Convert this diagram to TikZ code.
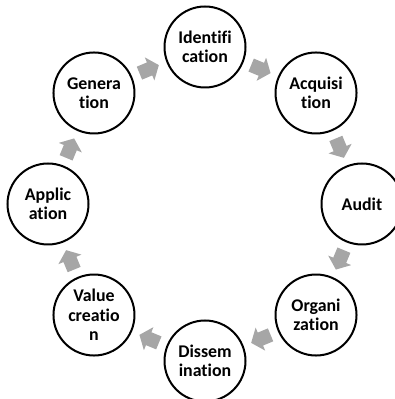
\documentclass[tikz,border=0pt]{standalone}
\usepackage{fontspec}
\setmainfont{Carlito}[Ligatures=NoCommon]
\usetikzlibrary{calc}
\definecolor{arrowgray}{RGB}{166,166,166}
\tikzset{
  stage/.style={circle, draw=black, line width=1.5pt, minimum size=60.75pt, inner sep=0pt,
    align=center, font=\bfseries\fontsize{13.4}{14.6}\selectfont},
  blockarrow/.pic={\fill[arrowgray] (-10.5,-7) -- (0.5,-7) -- (0.5,-12.5) -- (10.5,0) -- (0.5,12.5) -- (0.5,7) -- (-10.5,7) -- cycle;}
}
\begin{document}
\begin{tikzpicture}[x=0.75pt,y=0.75pt]
\useasboundingbox (0,0) rectangle (395,399);
\clip (0,0) rectangle (395,399);
\coordinate (c) at (205,195);
\node[stage] (ident) at ($(c)+(90:157)$) {Identifi\\cation};
\node[stage] (acq) at ($(c)+(45:157)$) {Acquisi\\tion};
\node[stage] (audit) at ($(c)+(0:157)$) {Audit};
\node[stage] (org) at ($(c)+(-45:157)$) {Organi\\zation};
\node[stage] (diss) at ($(c)+(-90:157)$) {Dissem\\ination};
\node[stage] (value) at ($(c)+(-135:157)$) {Value\\creatio\\n};
\node[stage] (appl) at ($(c)+(180:157)$) {Applic\\ation};
\node[stage] (gen) at ($(c)+(135:157)$) {Genera\\tion};
\foreach \a in {112.5,67.5,22.5,-22.5,-67.5,-112.5,-157.5,157.5}{
  \pic[rotate=\a-90] at ($(c)+(\a:146)$) {blockarrow};
}
\end{tikzpicture}
\end{document}
